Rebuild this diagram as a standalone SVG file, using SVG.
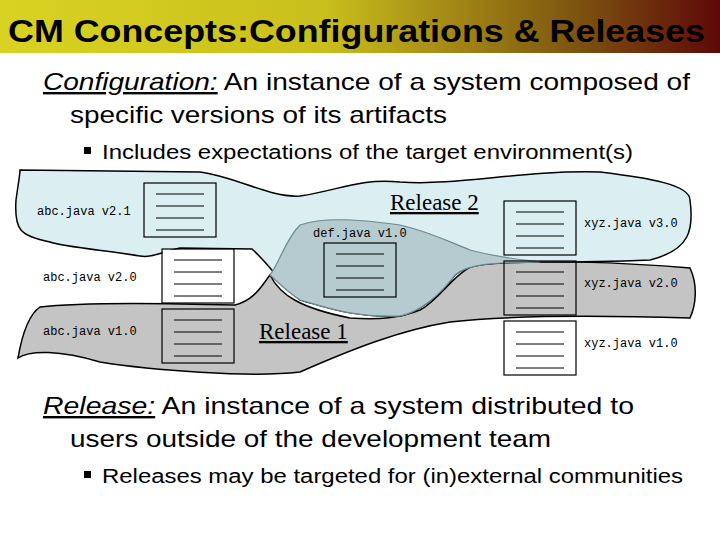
<svg xmlns="http://www.w3.org/2000/svg" width="720" height="540" viewBox="0 0 720 540">
<defs>
<linearGradient id="tg" x1="0" x2="1" y1="0" y2="0">
<stop offset="0" stop-color="#d8d322"/><stop offset="0.45" stop-color="#c9bf1c"/><stop offset="0.8" stop-color="#7d5410"/><stop offset="1" stop-color="#5e0808"/>
</linearGradient>
<g id="doc"><rect x="0" y="0" width="72" height="54" fill="none" stroke="#000" stroke-width="1.2"/>
<path d="M12 11H60M12 23H60M12 35H60M12 47H60" stroke="#000" stroke-width="1"/></g>
</defs>
<style>
.h{font-family:"Liberation Sans",Arial,sans-serif}
.m{font-family:"Liberation Mono","Courier New",monospace;font-size:12px}
.r{font-family:"Liberation Serif","Times New Roman",serif;font-size:23px;text-decoration:underline}
</style>
<rect width="720" height="540" fill="#fff"/>
<rect width="720" height="53" fill="url(#tg)"/>
<text class="h" x="8" y="42" font-size="32" font-weight="bold" textLength="697" lengthAdjust="spacingAndGlyphs">CM Concepts:Configurations &amp; Releases</text>
<text class="h" x="43" y="90" font-size="24" textLength="647" lengthAdjust="spacingAndGlyphs"><tspan font-style="italic" text-decoration="underline">Configuration:</tspan> An instance of a system composed of</text>
<text class="h" x="70" y="123" font-size="24" textLength="377" lengthAdjust="spacingAndGlyphs">specific versions of its artifacts</text>
<rect x="84" y="147" width="7" height="7" fill="#000"/>
<text class="h" x="102" y="159" font-size="20" textLength="531" lengthAdjust="spacingAndGlyphs">Includes expectations of the target environment(s)</text>
<g id="release1">
<path d="M40 307 C80 302 160 303 235 305 C255 300 262 285 270 275 C280 295 300 308 350 318 C380 320 400 318 420 310 C440 300 455 270 480 263 C540 260 620 262 690 268 C698 285 696 305 690 318 C620 316 520 314 450 322 C400 330 350 350 300 372 C250 378 150 370 100 362 C60 350 30 350 18 358 C22 335 28 315 40 307Z" fill="#c4c4c4" stroke="#000" stroke-width="1.5"/>
</g>
<g id="release2">
<path d="M20 170 L200 172 C240 178 270 198 300 196 C340 190 360 178 400 182 C460 186 520 170 600 172 C650 178 690 185 690 200 C694 230 690 250 650 260 C600 262 560 262 540 262 C500 263 470 262 455 275 C440 295 420 312 400 316 C350 318 320 305 300 300 C285 290 275 270 252 249 L180 248 C160 253 150 258 140 256 C100 250 60 246 50 242 C20 236 14 230 16 200 C18 185 20 175 20 170Z" fill="#dbeef1" stroke="#000" stroke-width="1.5"/>
<path d="M400 316 C350 318 320 305 300 300 C285 290 278 282 270 275 C280 262 285 240 300 225 C320 218 350 218 400 225 C430 232 445 240 470 250 C500 258 525 260 540 262 C500 263 470 262 455 275 C440 295 420 312 400 316Z" fill="#b5cbd0" stroke="#6a8a90" stroke-width="1.2"/>
</g>
<g id="docs">
<use href="#doc" x="144" y="183"/>
<use href="#doc" x="162" y="309"/>
<use href="#doc" x="324" y="243"/>
<use href="#doc" x="504" y="201"/>
<use href="#doc" x="504" y="261"/>
<rect x="162.6" y="249.6" width="70.8" height="52.8" fill="#fff"/>
<use href="#doc" x="162" y="249"/>
<rect x="504.6" y="321.6" width="70.8" height="52.8" fill="#fff"/>
<use href="#doc" x="504" y="321"/>
</g>
<g id="labels">
<text class="m" x="37" y="215">abc.java v2.1</text>
<text class="m" x="43" y="281">abc.java v2.0</text>
<text class="m" x="43" y="335">abc.java v1.0</text>
<text class="m" x="313" y="237">def.java v1.0</text>
<text class="m" x="584" y="227">xyz.java v3.0</text>
<text class="m" x="584" y="287">xyz.java v2.0</text>
<text class="m" x="584" y="347">xyz.java v1.0</text>
<text class="r" x="390" y="210">Release 2</text>
<text class="r" x="259" y="339">Release 1</text>
</g>
<text class="h" x="43" y="414" font-size="24" textLength="591" lengthAdjust="spacingAndGlyphs"><tspan font-style="italic" text-decoration="underline">Release:</tspan>  An instance of a system distributed to</text>
<text class="h" x="70" y="447" font-size="24" textLength="481" lengthAdjust="spacingAndGlyphs">users outside of the development team</text>
<rect x="84" y="471" width="7" height="7" fill="#000"/>
<text class="h" x="102" y="483" font-size="20" textLength="581" lengthAdjust="spacingAndGlyphs">Releases may be targeted for (in)external communities</text>
</svg>
